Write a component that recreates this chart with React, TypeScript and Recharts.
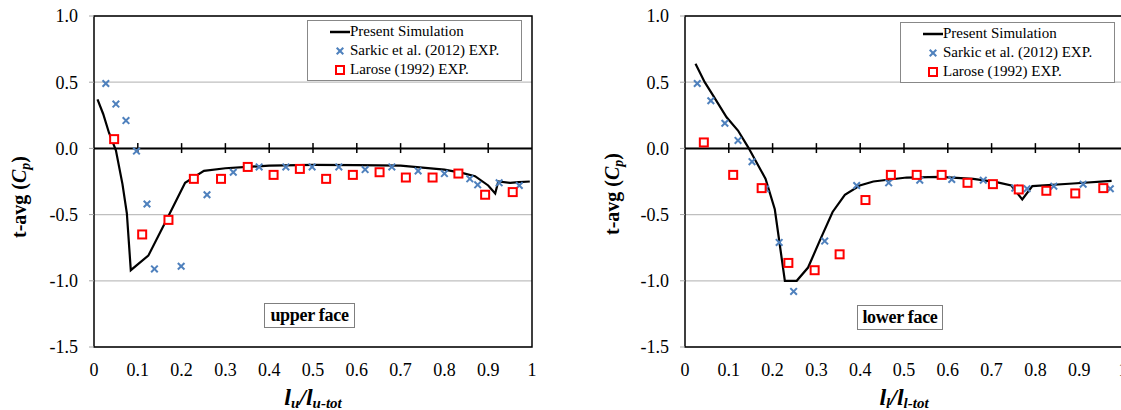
import React from "react";
import {
  ComposedChart,
  Line,
  Scatter,
  XAxis,
  YAxis,
  CartesianGrid,
  ReferenceLine,
  ReferenceArea,
} from "recharts";

const FONT = "Liberation Serif";
const BLUE = "#4f81bd";
const RED = "#ff0000";

// tick values
const xTicks = [0, 0.1, 0.2, 0.3, 0.4, 0.5, 0.6, 0.7, 0.8, 0.9, 1];
const yTicks = [-1.5, -1, -0.5, 0, 0.5, 1];
const zeroLineTicks = [0.1, 0.2, 0.3, 0.4, 0.5, 0.6, 0.7, 0.8, 0.9];

// upper face
const upperSimX = [0.008, 0.021, 0.034, 0.05, 0.065, 0.075, 0.084, 0.124, 0.17, 0.208, 0.251, 0.3, 0.35, 0.4, 0.5, 0.6, 0.7, 0.75, 0.8, 0.84, 0.87, 0.9, 0.916, 0.923, 0.95, 0.97, 0.995];
const upperSimCp = [0.37, 0.26, 0.12, -0.015, -0.27, -0.49, -0.92, -0.81, -0.51, -0.26, -0.17, -0.15, -0.14, -0.13, -0.125, -0.126, -0.13, -0.145, -0.16, -0.185, -0.21, -0.28, -0.34, -0.25, -0.26, -0.255, -0.25];
const upperSarkicX = [0.027, 0.05, 0.073, 0.097, 0.121, 0.138, 0.199, 0.258, 0.318, 0.377, 0.438, 0.498, 0.559, 0.619, 0.68, 0.74, 0.8, 0.858, 0.876, 0.925, 0.971];
const upperSarkicCp = [0.49, 0.335, 0.21, -0.02, -0.42, -0.91, -0.89, -0.35, -0.18, -0.14, -0.14, -0.14, -0.14, -0.16, -0.14, -0.17, -0.19, -0.23, -0.275, -0.26, -0.28];
const upperLaroseX = [0.046, 0.11, 0.17, 0.228, 0.29, 0.351, 0.41, 0.47, 0.53, 0.591, 0.652, 0.712, 0.773, 0.832, 0.893, 0.956];
const upperLaroseCp = [0.07, -0.65, -0.54, -0.23, -0.23, -0.14, -0.2, -0.155, -0.23, -0.2, -0.18, -0.22, -0.22, -0.19, -0.35, -0.33];

// lower face
const lowerSimX = [0.024, 0.045, 0.064, 0.095, 0.121, 0.144, 0.184, 0.205, 0.228, 0.255, 0.281, 0.308, 0.337, 0.365, 0.399, 0.43, 0.506, 0.582, 0.658, 0.711, 0.745, 0.77, 0.793, 0.886, 0.974];
const lowerSimCp = [0.64, 0.5, 0.4, 0.235, 0.135, 0.01, -0.23, -0.46, -1.0, -1.0, -0.9, -0.695, -0.48, -0.35, -0.28, -0.25, -0.22, -0.215, -0.23, -0.255, -0.28, -0.385, -0.285, -0.265, -0.245];
const lowerSarkicX = [0.028, 0.059, 0.091, 0.121, 0.153, 0.184, 0.215, 0.248, 0.319, 0.392, 0.465, 0.536, 0.609, 0.681, 0.753, 0.781, 0.842, 0.909, 0.971];
const lowerSarkicCp = [0.49, 0.36, 0.19, 0.06, -0.1, -0.305, -0.71, -1.08, -0.7, -0.28, -0.26, -0.24, -0.235, -0.24, -0.3, -0.305, -0.285, -0.27, -0.305];
const lowerLaroseX = [0.043, 0.11, 0.175, 0.236, 0.296, 0.353, 0.412, 0.47, 0.529, 0.586, 0.645, 0.703, 0.762, 0.825, 0.891, 0.955];
const lowerLaroseCp = [0.045, -0.2, -0.3, -0.865, -0.92, -0.8, -0.39, -0.2, -0.2, -0.2, -0.26, -0.27, -0.31, -0.32, -0.34, -0.3];

const toPoints = (xs: number[], ys: number[]) => xs.map((x, i) => ({ x, cp: ys[i] }));

const CrossShape = (props: any) => {
  const { cx, cy } = props;
  const s = 3.3;
  return (
    <g stroke={BLUE} strokeWidth={2}>
      <line x1={cx - s} y1={cy - s} x2={cx + s} y2={cy + s} />
      <line x1={cx - s} y1={cy + s} x2={cx + s} y2={cy - s} />
    </g>
  );
};

const SquareShape = (props: any) => {
  const { cx, cy } = props;
  return <rect x={cx - 4} y={cy - 4} width={8} height={8} fill="#fff" stroke={RED} strokeWidth={2} />;
};

const LegendBox = ({ left, top }: { left: number; top: number }) => (
  <div
    style={{
      position: "absolute",
      left,
      top,
      border: "1.5px solid #888",
      background: "#fff",
      fontFamily: FONT,
      fontSize: 15,
      color: "#000",
      padding: "1px 0 1px 0",
      lineHeight: "19px",
      width: 215,
      boxSizing: "border-box",
    }}
  >
    <div style={{ display: "flex", alignItems: "center" }}>
      <svg width={42} height={19}>
        <line x1={22} y1={10} x2={42} y2={10} stroke="#000" strokeWidth={2.5} />
      </svg>
      <span>Present Simulation</span>
    </div>
    <div style={{ display: "flex", alignItems: "center" }}>
      <svg width={42} height={19}>
        <CrossShape cx={32} cy={10} />
      </svg>
      <span>Sarkic et al. (2012) EXP.</span>
    </div>
    <div style={{ display: "flex", alignItems: "center" }}>
      <svg width={42} height={19}>
        <SquareShape cx={32} cy={10} />
      </svg>
      <span>Larose (1992) EXP.</span>
    </div>
  </div>
);

type PanelProps = {
  left: number;
  width: number;
  yAxisWidth: number;
  marginRight: number;
  sim: { x: number; cp: number }[];
  sarkic: { x: number; cp: number }[];
  larose: { x: number; cp: number }[];
  legendLeft: number;
  legendTop: number;
  face: string;
  faceLeft: number;
  faceTop: number;
  faceWidth: number;
  sub: string;
  xTitleX: number;
  yTitleX: number;
  yTitleY: number;
};

function Panel(p: PanelProps) {
  return (
    <div style={{ position: "absolute", left: p.left, top: 0, width: p.width, height: 410 }}>
      <ComposedChart
        width={p.width}
        height={410}
        margin={{ top: 16, right: p.marginRight, bottom: 33, left: 0 }}
      >
        <CartesianGrid horizontal vertical={false} stroke="#bfbfbf" strokeWidth={1.2} />
        <XAxis
          type="number"
          dataKey="x"
          domain={[0, 1]}
          ticks={xTicks}
          tickFormatter={(v: number) => (v === 0 ? "0" : v === 1 ? "1" : v.toFixed(1))}
          tickLine={false}
          axisLine={false}
          height={30}
          tickSize={0}
          tickMargin={16}
          tick={{ fill: "#000", fontSize: 18, fontFamily: FONT }}
          interval={0}
          allowDataOverflow
        />
        <YAxis
          type="number"
          dataKey="cp"
          domain={[-1.5, 1]}
          ticks={yTicks}
          width={p.yAxisWidth}
          tickFormatter={(v: number) => v.toFixed(1)}
          axisLine={false}
          tickLine={{ stroke: "#a6a6a6" }}
          tickSize={5}
          tickMargin={11}
          tick={{ fill: "#000", fontSize: 18, fontFamily: FONT }}
          interval={0}
          allowDataOverflow
        />
        <ReferenceArea x1={0} x2={1} y1={-1.5} y2={1} fill="none" stroke="#000" strokeWidth={1.5} ifOverflow="visible" />
        <ReferenceLine y={0} stroke="#000" strokeWidth={2} />
        {zeroLineTicks.map((t) => (
          <ReferenceLine
            key={t}
            segment={[
              { x: t, y: 0.04 },
              { x: t, y: -0.035 },
            ]}
            stroke="#000"
            strokeWidth={1.5}
          />
        ))}
        <Line
          data={p.sim}
          dataKey="cp"
          type="linear"
          stroke="#000"
          strokeWidth={2.2}
          dot={false}
          activeDot={false}
          isAnimationActive={false}
        />
        <Scatter data={p.sarkic} dataKey="cp" shape={<CrossShape />} isAnimationActive={false} />
        <Scatter data={p.larose} dataKey="cp" shape={<SquareShape />} isAnimationActive={false} />
      </ComposedChart>
      <LegendBox left={p.legendLeft} top={p.legendTop} />
      <div
        style={{
          position: "absolute",
          left: p.faceLeft,
          top: p.faceTop,
          width: p.faceWidth,
          height: 25,
          boxSizing: "border-box",
          border: "1.2px solid #7f7f7f",
          background: "#fff",
          fontFamily: FONT,
          fontWeight: "bold",
          fontSize: 18,
          lineHeight: "23px",
          textAlign: "center",
          letterSpacing: -0.3,
        }}
      >
        {p.face}
      </div>
      <svg
        width={p.width}
        height={410}
        style={{ position: "absolute", left: 0, top: 0, pointerEvents: "none" }}
      >
        <text
          transform={`translate(${p.yTitleX},${p.yTitleY}) rotate(-90)`}
          textAnchor="middle"
          fontFamily={FONT}
          fontWeight="bold"
          fontSize={20}
        >
          t-avg (<tspan fontStyle="italic">C</tspan>
          <tspan fontStyle="italic" fontSize={14} dy={4}>p</tspan>
          <tspan dy={-4}>)</tspan>
        </text>
        <text
          x={p.xTitleX}
          y={405}
          textAnchor="middle"
          fontFamily={FONT}
          fontWeight="bold"
          fontStyle="italic"
          fontSize={24}
        >
          l<tspan fontSize={15} dy={3}>{p.sub}</tspan>
          <tspan dy={-3}>/l</tspan>
          <tspan fontSize={15} dy={3}>{p.sub}-tot</tspan>
        </text>
      </svg>
    </div>
  );
}

export default function App() {
  return (
    <div
      style={{
        position: "absolute",
        left: 0,
        top: 0,
        width: 1121,
        height: 410,
        overflow: "hidden",
        background: "#fff",
      }}
    >
      <Panel
        left={0}
        width={560}
        yAxisWidth={94}
        marginRight={28}
        sim={toPoints(upperSimX, upperSimCp)}
        sarkic={toPoints(upperSarkicX, upperSarkicCp)}
        larose={toPoints(upperLaroseX, upperLaroseCp)}
        legendLeft={307}
        legendTop={20}
        face="upper face"
        faceLeft={264}
        faceTop={303}
        faceWidth={91}
        sub="u"
        xTitleX={313}
        yTitleX={26}
        yTitleY={197}
      />
      <Panel
        left={560}
        width={563}
        yAxisWidth={125}
        marginRight={0}
        sim={toPoints(lowerSimX, lowerSimCp)}
        sarkic={toPoints(lowerSarkicX, lowerSarkicCp)}
        larose={toPoints(lowerLaroseX, lowerLaroseCp)}
        legendLeft={340}
        legendTop={22}
        face="lower face"
        faceLeft={297}
        faceTop={305}
        faceWidth={86}
        sub="l"
        xTitleX={344}
        yTitleX={59}
        yTitleY={194}
      />
    </div>
  );
}
